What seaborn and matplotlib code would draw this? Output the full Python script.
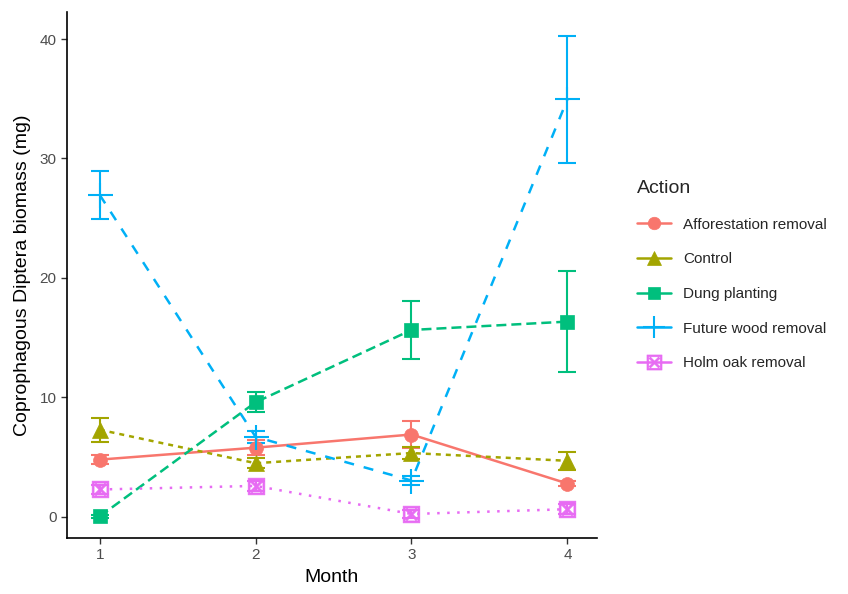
import numpy as np
import pandas as pd
import matplotlib
matplotlib.use("Agg")
import matplotlib.pyplot as plt
import seaborn as sns
from matplotlib.lines import Line2D

months = [1, 2, 3, 4]
actions = ["Afforestation removal", "Control", "Dung planting",
           "Future wood removal", "Holm oak removal"]
afforestation = [4.8, 5.8, 6.9, 2.8]
afforestation_se = [0.4, 0.6, 1.1, 0.2]
control = [7.3, 4.5, 5.35, 4.7]
control_se = [1.0, 0.4, 0.5, 0.75]
dung = [0.05, 9.6, 15.65, 16.35]
dung_se = [0.1, 0.85, 2.4, 4.2]
future = [26.95, 6.7, 3.05, 34.95]
future_se = [2.0, 0.5, 0.4, 5.3]
holm = [2.3, 2.6, 0.25, 0.65]
holm_se = [0.4, 0.4, 0.3, 0.4]

means = [afforestation, control, dung, future, holm]
ses = [afforestation_se, control_se, dung_se, future_se, holm_se]

rows = []
for a, m, s in zip(actions, means, ses):
    for mo, v, e in zip(months, m, s):
        rows.append({"Month": mo, "Biomass": v, "SE": e, "Action": a})
df = pd.DataFrame(rows)

colors = ["#F8766D", "#A3A500", "#00BF7D", "#00B0F6", "#E76BF3"]
markers = ["o", "^", "s", "+", "$\\boxtimes$"]
msizes = [10, 11, 10, 18, 12]
dashes = ["-", (0, (2, 2)), (0, (4, 2)), (0, (4, 4)), (0, (1, 3))]

sns.set_theme(style="ticks")
plt.rcParams["font.family"] = ["Liberation Sans", "DejaVu Sans"]

fig = plt.figure(figsize=(8.48, 5.94), dpi=100)
ax = fig.add_axes([67 / 848, 56 / 594, (597 - 67) / 848, (538 - 12) / 594])

handles = []
for a, c, mk, ms, ls in zip(actions, colors, markers, msizes, dashes):
    sub = df[df["Action"] == a]
    ax.errorbar(sub["Month"], sub["Biomass"], yerr=sub["SE"], fmt="none",
                ecolor=c, elinewidth=1.5, capsize=6.5, capthick=1.5, zorder=2)
    sns.lineplot(data=sub, x="Month", y="Biomass", ax=ax, color=c,
                 linestyle=ls, linewidth=1.8, marker=mk, markersize=ms,
                 markeredgewidth=1.5 if mk == "+" else 0.5,
                 markeredgecolor=c, errorbar=None, legend=False, zorder=3)
    handles.append(Line2D([0], [0], color=c, linestyle="-", linewidth=1.8,
                          marker=mk, markersize=ms * 0.9,
                          markeredgewidth=1.5 if mk == "+" else 0.5,
                          markeredgecolor=c))

ax.set_xlim(0.79, 4.19)
ax.set_ylim(-1.76, 42.26)
ax.set_xticks(months)
ax.set_xticklabels([str(m) for m in months])
ax.set_yticks([0, 10, 20, 30, 40])
ax.tick_params(axis="both", labelsize=11, labelcolor="#4D4D4D",
               color="#333333", length=4, width=1)
for sp in ["left", "bottom"]:
    ax.spines[sp].set_linewidth(1.2)
    ax.spines[sp].set_color("black")
sns.despine(ax=ax)
ax.set_xlabel("Month", fontsize=14, color="black", labelpad=5)
ax.set_ylabel("Coprophagous Diptera biomass (mg)", fontsize=14, color="black",
              labelpad=6)

fig.legend(handles, actions, title="Action", loc="upper left",
           bbox_to_anchor=(0.735, 0.72), frameon=False, fontsize=11,
           title_fontsize=14, labelspacing=1.35, handlelength=2.2,
           alignment="left")

fig.savefig("out.png", dpi=100)
